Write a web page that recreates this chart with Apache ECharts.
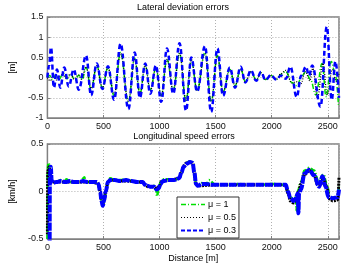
<!DOCTYPE html>
<html><head><meta charset="utf-8">
<script src="https://cdn.jsdelivr.net/npm/echarts@6/dist/echarts.min.js"></script>
<style>html,body{margin:0;padding:0;background:#fff}#c{width:352px;height:267px}</style>
</head><body><div id="c"></div>
<script>
// ---------- Data: Lateral deviation errors [m] vs distance [m] ----------
const latDistMu1 = [0,20,45,75,105,140,175,210,245,280,310,345,390,440,490,540,595,652,722,778,825,872,918,967,1015,1066,1122,1178,1236,1283,1335,1405,1460,1516,1566,1627,1673,1723,1765,1815,1862,1904,1945,1992,2042,2083,2125,2180,2225,2270,2305,2345,2394,2449,2485,2532,2565,2596];
const latValMu1  = [0,0.05,-0.05,0.07,-0.04,0.1,-0.03,0.08,-0.06,0.06,-0.05,0.25,-0.3,0.3,-0.25,0.25,-0.45,0.62,-0.6,0.48,-0.4,0.3,-0.3,0.22,-0.45,0.45,-0.3,0.6,-0.58,0.42,-0.3,0.62,-0.6,0.55,-0.35,0.2,-0.2,0.22,-0.1,0.15,-0.06,0.12,-0.05,0.06,-0.04,0.08,0.15,-0.12,-0.2,0.05,0.15,-0.05,-0.43,0.35,-0.47,0.4,0.1,-0.72];

const latDistMu05 = [0,25,50,80,110,140,170,205,240,275,305,345,390,440,490,540,595,652,722,778,825,872,918,967,1015,1066,1122,1178,1236,1283,1335,1405,1460,1516,1566,1627,1673,1723,1765,1815,1862,1904,1945,1992,2042,2083,2125,2180,2215,2260,2300,2340,2366,2408,2457,2496,2540,2575,2600];
const latValMu05  = [0,-0.08,0.04,-0.06,0.03,0.1,-0.02,0.09,-0.04,0.07,-0.04,0.27,-0.27,0.3,-0.25,0.24,-0.42,0.6,-0.58,0.45,-0.4,0.3,-0.32,0.25,-0.45,0.45,-0.32,0.6,-0.56,0.45,-0.32,0.6,-0.58,0.52,-0.35,0.2,-0.2,0.2,-0.1,0.15,-0.07,0.12,-0.05,0.05,-0.04,0.1,0.18,-0.14,-0.1,-0.15,0.15,-0.08,0.23,-0.5,0.35,-0.43,0.2,-0.1,0.1];

const latDistMu03 = [0,15,32,58,85,115,150,190,235,280,345,390,440,490,540,595,652,722,778,825,872,918,967,1015,1066,1122,1178,1236,1283,1335,1405,1460,1516,1566,1627,1673,1723,1765,1815,1862,1904,1945,1992,2042,2083,2125,2167,2222,2264,2305,2333,2361,2435,2491,2535,2568,2600];
const latValMu03  = [0,0.3,0.75,-0.25,0.2,-0.25,0.25,-0.22,0.2,-0.3,0.55,-0.44,0.35,-0.28,0.28,-0.55,0.84,-0.78,0.62,-0.5,0.35,-0.4,0.3,-0.6,0.72,-0.4,0.85,-0.82,0.5,-0.35,0.78,-0.85,0.72,-0.45,0.25,-0.25,0.27,-0.12,0.18,-0.08,0.14,-0.06,0.06,-0.05,0.05,-0.03,0.27,-0.48,0.05,0.27,0.05,0.3,-0.72,1.26,-0.55,0.4,-0.5];

// ---------- Data: Longitudinal speed errors [km/h] vs distance [m] ----------
const spdDistMu1 = [0,3,10,25,40,80,120,150,170,200,250,300,330,340,380,420,455,470,483,493,505,520,540,560,600,650,700,750,800,850,870,890,920,950,970,978,990,1010,1030,1080,1130,1175,1195,1215,1240,1273,1295,1310,1325,1340,1380,1420,1440,1500,1600,1700,1800,1900,2000,2100,2125,2145,2167,2195,2215,2222,2226,2232,2260,2293,2335,2377,2419,2461,2490,2517,2545,2587,2600];
const spdValMu1  = [-0.5,0.25,0.3,0.2,0.1,0.1,0.12,0.1,0.13,0.1,0.1,0.11,0.15,0.1,0.1,0.1,0.08,0.0,-0.1,-0.14,-0.1,0.0,0.1,0.14,0.12,0.12,0.13,0.11,0.1,0.1,0.07,0.06,0.05,0.06,0.02,-0.05,0.03,0.1,0.13,0.13,0.12,0.14,0.2,0.27,0.3,0.32,0.31,0.2,0.08,0.06,0.09,0.08,0.12,0.07,0.07,0.08,0.07,0.07,0.08,0.07,0.08,0.0,-0.06,-0.09,-0.06,-0.2,-0.02,0.0,0.1,0.22,0.25,0.22,0.1,0.18,0.08,-0.04,-0.07,-0.06,0.05];

const spdDistMu05 = [0,4,15,30,40,100,200,300,400,455,470,483,493,505,520,540,560,700,850,870,900,950,975,1000,1020,1100,1175,1195,1215,1240,1273,1295,1310,1325,1340,1500,1800,2100,2125,2145,2167,2195,2220,2240,2260,2293,2335,2377,2410,2440,2461,2490,2517,2545,2587,2600];
const spdValMu05  = [-0.45,0.22,0.26,0.15,0.1,0.1,0.1,0.1,0.1,0.08,0.0,-0.1,-0.14,-0.1,0.0,0.1,0.12,0.11,0.1,0.07,0.05,0.05,0.03,0.06,0.11,0.12,0.14,0.2,0.27,0.3,0.31,0.3,0.2,0.08,0.06,0.07,0.07,0.07,0.06,-0.02,-0.1,-0.12,-0.08,0.0,0.08,0.18,0.22,0.18,0.07,0.08,0.14,0.05,-0.08,-0.1,-0.09,0.15];

const spdDistMu03 = [20,22,30,38,48,80,120,160,200,240,280,320,360,400,440,455,470,483,493,505,520,540,560,600,650,700,750,800,850,870,890,920,950,975,990,1010,1030,1080,1130,1175,1195,1215,1240,1273,1295,1310,1325,1340,1380,1420,1460,1500,1600,1700,1800,1900,2000,2100,2125,2145,2167,2195,2215,2232,2238,2244,2260,2293,2335,2377,2423,2453,2480,2506,2545,2587,2600];
const spdValMu03  = [-0.6,0.15,0.26,0.12,0.09,0.1,0.11,0.1,0.11,0.1,0.1,0.11,0.1,0.1,0.1,0.08,0.0,-0.1,-0.15,-0.1,0.0,0.1,0.12,0.12,0.11,0.12,0.11,0.1,0.1,0.07,0.06,0.05,0.05,0.02,0.03,0.08,0.11,0.12,0.12,0.14,0.2,0.26,0.29,0.31,0.3,0.2,0.08,0.06,0.08,0.08,0.07,0.07,0.07,0.07,0.07,0.07,0.07,0.07,0.07,0.0,-0.07,-0.1,-0.07,-0.02,-0.23,-0.02,0.02,0.19,0.23,0.17,0.05,0.16,0.05,-0.06,-0.07,-0.06,0.02];

const legendNames = ['\u03bc = 1', '\u03bc = 0.5', '\u03bc = 0.3'];
const xTicks = [0, 500, 1000, 1500, 2000, 2500];

// ---------- Chart ----------
const FONT = 'Liberation Sans, Arial, sans-serif';
const pairs = (d, v) => d.map((x, i) => [x, v[i]]);
const GREEN = '#00e000', BLACK = '#000000', BLUE = '#0000ff';
const FRAME = '#808080';

function xAxis(gi, name) {
  return {
    type: 'value', gridIndex: gi, min: 0, max: 2600, interval: 500,
    name: name || '', nameLocation: 'middle', nameGap: 15,
    nameTextStyle: {fontFamily: FONT, fontSize: 9, color: '#000'},
    axisLine: {show: true, onZero: false, lineStyle: {color: FRAME, width: 1}},
    axisTick: {show: true, inside: true, length: 3, lineStyle: {color: FRAME}},
    axisLabel: {color: '#111', fontFamily: FONT, fontSize: 9, margin: 4,
      formatter: v => xTicks.includes(v) ? String(v) : ''},
    splitLine: {show: true, lineStyle: {color: '#b0b0b0', type: [1, 2], width: 1}}
  };
}
function yAxis(gi, min, max, name, gap) {
  return {
    type: 'value', gridIndex: gi, min: min, max: max, interval: 0.5,
    name: name, nameLocation: 'middle', nameGap: gap, nameRotate: 90,
    nameTextStyle: {fontFamily: FONT, fontSize: 9, color: '#000'},
    axisLine: {show: true, onZero: false, lineStyle: {color: FRAME, width: 1}},
    axisTick: {show: true, inside: true, length: 3, lineStyle: {color: FRAME}},
    axisLabel: {color: '#111', fontFamily: FONT, fontSize: 9, margin: 4,
      formatter: v => String(Math.round(v * 10) / 10)},
    splitLine: {show: true, lineStyle: {color: '#b0b0b0', type: [1, 2], width: 1}}
  };
}
function line(name, gi, data, color, type, width) {
  return {
    name: name, type: 'line', xAxisIndex: gi, yAxisIndex: gi, data: data,
    showSymbol: false, symbol: 'none', symbolSize: 0, smooth: 0.4, smoothMonotone: 'x',
    lineStyle: {color: color, type: type, width: width}, itemStyle: {color: color},
    animation: false, z: 2
  };
}

const chart = echarts.init(document.getElementById('c'), null, {renderer: 'canvas'});
chart.setOption({
  backgroundColor: '#fff',
  animation: false,
  grid: [
    {left: 27, right: 13, top: 17, height: 101, show: true, borderColor: FRAME, borderWidth: 1.5, backgroundColor: 'transparent'},
    {left: 29, right: 13, top: 144, height: 95, show: true, borderColor: FRAME, borderWidth: 1.5, backgroundColor: 'transparent'}
  ],
  xAxis: [xAxis(0), xAxis(1, 'Distance [m]')],
  yAxis: [yAxis(0, -1, 1.5, '[m]', 18), yAxis(1, -0.5, 0.5, '[km/h]', 20)],
  graphic: [
    {type: 'text', x: 183, y: 8, style: {text: 'Lateral deviation errors', font: '9px ' + FONT, fill: '#000', textAlign: 'center', textVerticalAlign: 'middle'}},
    {type: 'text', x: 184, y: 137, style: {text: 'Longitudinal speed errors', font: '9px ' + FONT, fill: '#000', textAlign: 'center', textVerticalAlign: 'middle'}}
  ],
  legend: {
    orient: 'vertical', left: 177, top: 197,
    itemWidth: 24, itemHeight: 8, itemGap: 4, padding: [3, 3, 3, 3],
    backgroundColor: '#fff', borderColor: '#333', borderWidth: 1, borderRadius: 0,
    textStyle: {fontFamily: FONT, fontSize: 9, color: '#000', padding: [0, 0, 0, -2]},
    selectedMode: false,
    data: [
      {name: legendNames[0], itemStyle: {opacity: 0}, lineStyle: {color: GREEN, type: [5, 2, 1, 2], width: 1.5}},
      {name: legendNames[1], itemStyle: {opacity: 0}, lineStyle: {color: BLACK, type: [1, 2], width: 1}},
      {name: legendNames[2], itemStyle: {opacity: 0}, lineStyle: {color: BLUE, type: [4, 2], width: 2}}
    ]
  },
  series: [
    line(legendNames[0], 0, pairs(latDistMu1, latValMu1), GREEN, [5, 2, 1, 2], 1.5),
    line(legendNames[1], 0, pairs(latDistMu05, latValMu05), BLACK, [1, 1.5], 1.2),
    line(legendNames[2], 0, pairs(latDistMu03, latValMu03), BLUE, [5, 3], 2.5),
    line(legendNames[0], 1, pairs(spdDistMu1, spdValMu1), GREEN, [5, 2, 1, 2], 2.5),
    line(legendNames[1], 1, pairs(spdDistMu05, spdValMu05), BLACK, [2, 1], 3),
    line(legendNames[2], 1, pairs(spdDistMu03, spdValMu03), BLUE, [8, 1], 4)
  ]
});
</script></body></html>
